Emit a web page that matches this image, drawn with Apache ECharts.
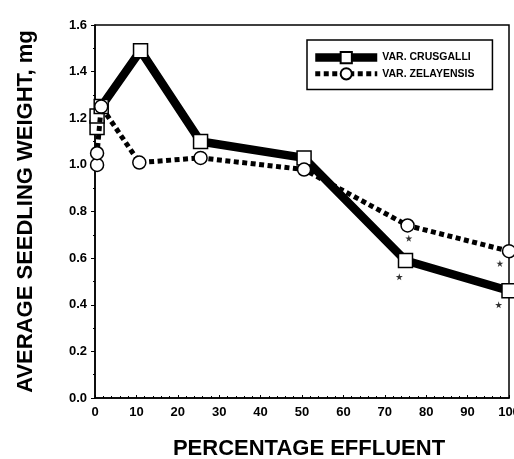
<!DOCTYPE html>
<html>
<head>
<meta charset="utf-8">
<script src="https://cdn.jsdelivr.net/npm/echarts@6/dist/echarts.min.js"></script>
<style>html,body{margin:0;padding:0;background:#fff;}#c{width:514px;height:459px;}</style>
</head>
<body>
<div id="c"></div>
<script>
const xTicks = [0, 10, 20, 30, 40, 50, 60, 70, 80, 90, 100];
const yTicks = [0.0, 0.2, 0.4, 0.6, 0.8, 1.0, 1.2, 1.4, 1.6];
const crusgalliX = [0.5, 0.5, 1.5, 11, 25.5, 50.5, 75, 100];
const crusgalliY = [1.16, 1.21, 1.25, 1.49, 1.10, 1.03, 0.59, 0.46];
const zelayensisX = [0.5, 0.5, 1.5, 10.7, 25.5, 50.5, 75.5, 100];
const zelayensisY = [1.00, 1.05, 1.25, 1.01, 1.03, 0.98, 0.74, 0.63];
const starX = [73.5, 75.8, 97.5, 97.8];
const starY = [0.52, 0.685, 0.40, 0.577];

const font = 'Liberation Sans';
const pair = (xs, ys) => xs.map((x, i) => [x, ys[i]]);
const starPath = 'path://M50,0 L61,35 L98,35 L68,57 L79,91 L50,70 L21,91 L32,57 L2,35 L39,35 Z';

const chart = echarts.init(document.getElementById('c'));
chart.setOption({
  animation: false,
  backgroundColor: '#fff',
  grid: { left: 95, right: 5, top: 25, bottom: 61, outerBoundsMode: 'none', containLabel: false,
          show: true, borderColor: '#000', borderWidth: 1.5, backgroundColor: 'transparent' },
  legend: {
    left: 307, top: 40,
    orient: 'vertical',
    padding: [11, 18, 9, 4],
    itemGap: 3,
    itemWidth: 62, itemHeight: 14,
    borderColor: '#000', borderWidth: 1.5,
    lineStyle: { width: 'inherit' },
    textStyle: { fontFamily: font, fontWeight: 'bold', fontSize: 10.5, color: '#000' },
    data: ['VAR. CRUSGALLI', 'VAR. ZELAYENSIS']
  },
  xAxis: {
    type: 'value', min: 0, max: 100, interval: 10,
    name: 'PERCENTAGE EFFLUENT', nameLocation: 'middle', nameGap: 40,
    nameTextStyle: { fontFamily: font, fontWeight: 'bold', fontSize: 22, color: '#000', padding: [0, 0, 0, 14] },
    axisLine: { lineStyle: { color: '#000', width: 1.5 } },
    axisTick: { show: true, inside: true, length: 3, lineStyle: { color: '#000' } },
    minorTick: { show: true, splitNumber: 5, length: 2, lineStyle: { color: '#000' } },
    splitLine: { show: false },
    axisLabel: { fontFamily: font, fontWeight: 'bold', fontSize: 13, color: '#000', margin: 8,
      formatter: v => xTicks.includes(v) ? String(v) : '' }
  },
  yAxis: {
    type: 'value', min: 0, max: 1.6, interval: 0.2,
    name: 'AVERAGE SEEDLING WEIGHT, mg', nameLocation: 'middle', nameGap: 58,
    nameTextStyle: { fontFamily: font, fontWeight: 'bold', fontSize: 22, color: '#000' },
    axisLine: { lineStyle: { color: '#000', width: 1.5 } },
    axisTick: { show: true, length: 4, lineStyle: { color: '#000' } },
    minorTick: { show: true, splitNumber: 2, length: 2, lineStyle: { color: '#000' } },
    splitLine: { show: false },
    axisLabel: { fontFamily: font, fontWeight: 'bold', fontSize: 13, color: '#000', margin: 8,
      formatter: v => { const t = yTicks.find(y => Math.abs(y - v) < 1e-6); return t === undefined ? '' : t.toFixed(1); } }
  },
  series: [
    {
      name: 'VAR. CRUSGALLI', type: 'line', z: 2,
      data: pair(crusgalliX, crusgalliY),
      symbol: 'rect', symbolSize: 14, showAllSymbol: true,
      lineStyle: { color: '#000', width: 8.5 },
      itemStyle: { color: '#fff', borderColor: '#000', borderWidth: 1.5 }
    },
    {
      name: 'VAR. ZELAYENSIS', type: 'line', z: 3,
      data: pair(zelayensisX, zelayensisY),
      symbol: 'circle', symbolSize: 13, showAllSymbol: true,
      lineStyle: { color: '#000', width: 5, type: [5, 3.5], cap: 'butt' },
      itemStyle: { color: '#fff', borderColor: '#000', borderWidth: 1.5 }
    },
    {
      name: 'stars', type: 'scatter', z: 4, silent: true,
      data: pair(starX, starY),
      symbol: starPath, symbolSize: 7,
      itemStyle: { color: '#000' }
    }
  ]
});
</script>
</body>
</html>
